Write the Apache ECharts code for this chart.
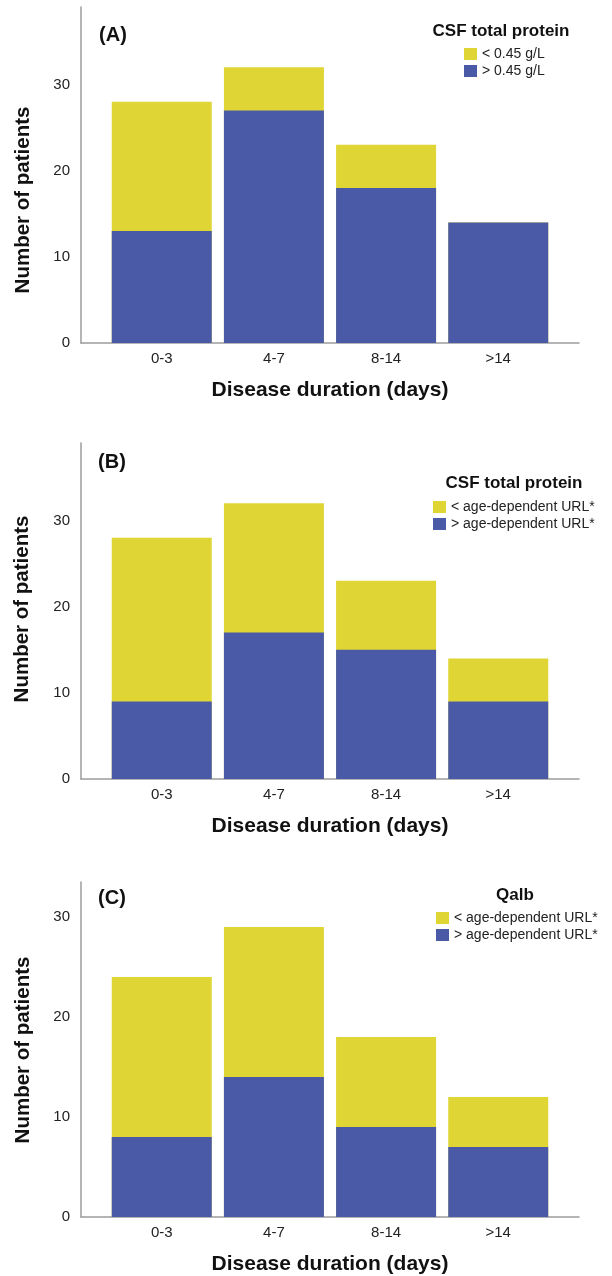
<!DOCTYPE html>
<html>
<head>
<meta charset="utf-8">
<script src="https://cdn.jsdelivr.net/npm/echarts@6/dist/echarts.min.js"></script>
<style>
html,body{margin:0;padding:0;background:#fff;}
#chart{width:612px;height:1276px;}
</style>
</head>
<body>
<div id="chart"></div>
<script>
// ---- data ----
const categories = ['0-3', '4-7', '8-14', '>14'];
const aBelow = [15, 5, 5, 0];
const aAbove = [13, 27, 18, 14];
const bBelow = [19, 15, 8, 5];
const bAbove = [9, 17, 15, 9];
const cBelow = [16, 15, 9, 5];
const cAbove = [8, 14, 9, 7];
const yTickLabels = [0, 10, 20, 30];
const panelLetters = ['(A)', '(B)', '(C)'];
const legendTitles = ['CSF total protein', 'CSF total protein', 'Qalb'];
const legendA = ['< 0.45 g/L', '> 0.45 g/L'];
const legendBC = ['< age-dependent URL*', '> age-dependent URL*'];
const xTitle = 'Disease duration (days)';
const yTitle = 'Number of patients';

// ---- style ----
const FONT = '"Liberation Sans", Arial, Helvetica, sans-serif';
const YELLOW = '#dfd635';
const BLUE = '#4a5aa7';
const AXIS = '#9c9c9c';

const panels = [
  { below: aBelow, above: aAbove, names: legendA, top: 7, height: 336, ymax: 39,
    letter: [113, 35], ltitle: [501, 31], legend: [464, 47], ytitle: [23, 200] },
  { below: bBelow, above: bAbove, names: legendBC, top: 443, height: 336, ymax: 39,
    letter: [112, 462], ltitle: [514, 483], legend: [433, 500], ytitle: [22, 609] },
  { below: cBelow, above: cAbove, names: legendBC, top: 882, height: 336.5, ymax: 33.5,
    letter: [112, 898], ltitle: [515, 895], legend: [436, 911], ytitle: [23, 1050] }
];

const grid = [], xAxis = [], yAxis = [], series = [], legend = [], graphic = [];

panels.forEach((p, k) => {
  grid.push({ left: 81, width: 498, top: p.top, height: p.height, containLabel: false });
  xAxis.push({
    gridIndex: k, type: 'value', min: -0.72, max: 3.72,
    axisLine: { show: true, onZero: false, lineStyle: { color: AXIS, width: 1.5 } },
    axisTick: { show: false },
    splitLine: { show: false },
    axisLabel: {
      customValues: categories.map((c, i) => i),
      formatter: v => categories[Math.round(v)],
      fontFamily: FONT, fontSize: 15, color: '#222', margin: 8
    },
    name: xTitle, nameLocation: 'middle', nameGap: 37,
    nameTextStyle: { fontFamily: FONT, fontSize: 21, fontWeight: 'bold', color: '#111' }
  });
  yAxis.push({
    gridIndex: k, type: 'value', min: 0, max: p.ymax, interval: 10,
    axisLine: { show: true, onZero: false, lineStyle: { color: AXIS, width: 1.5 } },
    axisTick: { show: false },
    splitLine: { show: false },
    axisLabel: {
      customValues: yTickLabels,
      fontFamily: FONT, fontSize: 15, color: '#222', margin: 11
    }
  });
  series.push({
    type: 'bar', name: p.names[0], xAxisIndex: k, yAxisIndex: k,
    barWidth: 100, barGap: '-100%', z: 2,
    itemStyle: { color: YELLOW },
    data: categories.map((c, i) => [i, p.below[i] + p.above[i]])
  });
  series.push({
    type: 'bar', name: p.names[1], xAxisIndex: k, yAxisIndex: k,
    barWidth: 100, barGap: '-100%', z: 3,
    itemStyle: { color: BLUE },
    data: categories.map((c, i) => [i, p.above[i]])
  });
  legend.push({
    data: p.names.slice(), orient: 'vertical', left: p.legend[0], top: p.legend[1],
    padding: 0, itemGap: 3, itemWidth: 13, itemHeight: 12, icon: 'rect',
    selectedMode: false,
    textStyle: { fontFamily: FONT, fontSize: 14, color: '#222' }
  });
  graphic.push({
    type: 'text', x: p.letter[0], y: p.letter[1],
    style: { text: panelLetters[k], font: 'bold 20px ' + FONT, fill: '#111',
             textAlign: 'center', textVerticalAlign: 'middle' }
  });
  graphic.push({
    type: 'text', x: p.ltitle[0], y: p.ltitle[1],
    style: { text: legendTitles[k], font: 'bold 17px ' + FONT, fill: '#111',
             textAlign: 'center', textVerticalAlign: 'middle' }
  });
  graphic.push({
    type: 'text', x: p.ytitle[0], y: p.ytitle[1], rotation: Math.PI / 2,
    style: { text: yTitle, font: 'bold 20.5px ' + FONT, fill: '#111',
             textAlign: 'center', textVerticalAlign: 'middle' }
  });
});

const chart = echarts.init(document.getElementById('chart'), null, { renderer: 'canvas' });
chart.setOption({
  animation: false,
  backgroundColor: '#ffffff',
  grid, xAxis, yAxis, series, legend, graphic
});
</script>
</body>
</html>
